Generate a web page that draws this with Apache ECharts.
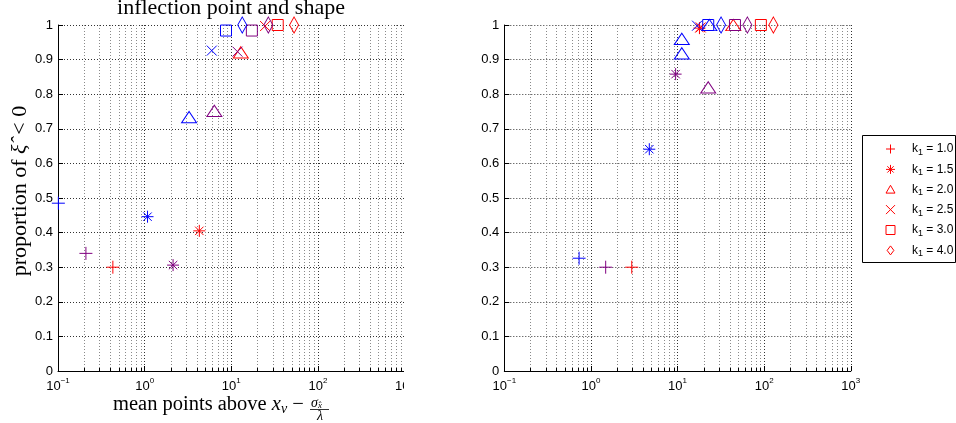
<!DOCTYPE html>
<html>
<head>
<meta charset="utf-8">
<script src="https://cdn.jsdelivr.net/npm/echarts@6.0.0/dist/echarts.min.js"></script>
<style>
  html, body { margin: 0; padding: 0; background: #fff; width: 956px; height: 423px; overflow: hidden; }
  #left  { position: absolute; left: 0;     top: 0; width: 404px; height: 423px; }
  #right { position: absolute; left: 404px; top: 0; width: 552px; height: 423px; }
</style>
</head>
<body>
<div id="left"></div>
<div id="right"></div>
<script>
// ---- data ------------------------------------------------------------
const kLabels = ['1.0', '1.5', '2.0', '2.5', '3.0', '4.0'];

// decade ticks and the 2..9 minor ticks of the log x axis
const xDecades = [0.1, 1, 10, 100, 1000];
const xMinorTicks = [
  0.2, 0.3, 0.4, 0.5, 0.6, 0.7, 0.8, 0.9,
  2, 3, 4, 5, 6, 7, 8, 9,
  20, 30, 40, 50, 60, 70, 80, 90,
  200, 300, 400, 500, 600, 700, 800, 900
];

// left panel (inflection point and shape): one point per k1 for each group
const leftBlueX   = [0.101, 1.08, 3.26, 5.96, 8.7, 13.4];
const leftBlueY   = [0.485, 0.446, 0.734, 0.926, 0.984, 1.0];
const leftPurpleX = [0.21, 2.13, 6.38, 11.8, 17.3, 26.8];
const leftPurpleY = [0.34, 0.306, 0.752, 0.923, 0.984, 1.0];
const leftRedX    = [0.43, 4.28, 12.9, 24.6, 34.4, 53.1];
const leftRedY    = [0.30, 0.405, 0.921, 0.997, 1.0, 1.0];

// right panel
const rightBlueX   = [0.73, 4.72, 11.2, 16.8, 22.6, 31.8];
const rightBlueY   = [0.326, 0.641, 0.96, 0.998, 1.0, 1.0];
const rightPurpleX = [1.48, 9.5, 22.6, null, 46, 64];
const rightPurpleY = [0.30, 0.858, 0.82, null, 1.0, 1.0];
const rightRedX    = [2.96, 17.9, 44, 18.5, 91.6, 127.7];
const rightRedY    = [0.30, 0.991, 1.0, 0.993, 1.0, 1.0];
// additional k1 = 2.0 runs of the blue group
const rightBlueTriX = [11.2, 23.3];
const rightBlueTriY = [0.918, 1.0];

// ---- styling ---------------------------------------------------------
const BLUE = '#0000ff', PURPLE = '#800080', RED = '#ff0000';
const SANS = '"Liberation Sans", Arial, sans-serif';
const SERIF = '"Liberation Serif", "Times New Roman", serif';

// open markers: +, *, triangle, x, square, diamond
const MARKERS = [
  { symbol: 'path://M0,6.5L13,6.5M6.5,0L6.5,13', size: 13 },
  { symbol: 'path://M0,6L12,6M6,0L6,12M1.8,1.8L10.2,10.2M1.8,10.2L10.2,1.8', size: 12 },
  { symbol: 'path://M7.5,0L15,13L0,13Z', size: [15, 13] },
  { symbol: 'path://M0,0L10,10M0,10L10,0', size: 10 },
  { symbol: 'path://M0,0L11,0L11,11L0,11Z', size: 11 },
  { symbol: 'path://M6,0L12,8L6,16L0,8Z', size: [12, 16] }
];

function pt(x, y, color) {
  return { value: [x, y], itemStyle: { borderColor: color } };
}

function groupPoints(groups, i) {
  const out = [];
  groups.forEach(g => {
    if (g.x[i] != null) out.push(pt(g.x[i], g.y[i], g.color));
  });
  return out;
}

function decadeLabel(v) {
  const e = Math.round(Math.log10(v));
  return '{b|10}{s|' + (e < 0 ? '\u2212' + (-e) : e) + '}';
}

function minorGridSeries() {
  return {
    type: 'custom',
    silent: true,
    z: 1,
    clip: false,
    data: xMinorTicks.map(v => [v, 0]),
    encode: { x: 0, y: 1 },
    renderItem(params, api) {
      const cs = params.coordSys;
      const x = Math.round(api.coord([api.value(0), 0])[0]) + 0.5;
      const bottom = cs.y + cs.height;
      return {
        type: 'group',
        children: [
          { type: 'line', shape: { x1: x, y1: cs.y, x2: x, y2: bottom },
            style: { stroke: '#8a8a8a', lineWidth: 1, lineDash: [1, 2] } },
          { type: 'line', shape: { x1: x, y1: bottom, x2: x, y2: bottom - 3 },
            style: { stroke: '#000', lineWidth: 1 } }
        ]
      };
    }
  };
}

function scatterSeries(groups, extra) {
  return kLabels.map((k, i) => {
    const data = groupPoints(groups, i);
    if (extra && extra.index === i) {
      extra.x.forEach((x, j) => data.unshift(pt(x, extra.y[j], extra.color)));
    }
    return {
      type: 'scatter',
      name: 'k1 = ' + k,
      symbol: MARKERS[i].symbol,
      symbolSize: MARKERS[i].size,
      symbolKeepAspect: true,
      clip: false,
      z: 5,
      itemStyle: { color: 'none', borderColor: RED, borderWidth: 1, opacity: 1 },
      emphasis: { disabled: true },
      data
    };
  });
}

function panelOption(gridLeft, groups, extra) {
  return {
    animation: false,
    grid: { left: gridLeft, top: 25, width: 346.5, height: 346, containLabel: false, outerBoundsMode: 'none' },
    xAxis: {
      type: 'log', logBase: 10, min: 0.1, max: 1000,
      axisLine: { show: true, onZero: false, lineStyle: { color: '#000', width: 1 } },
      axisTick: { show: true, inside: true, length: 5, lineStyle: { color: '#000' } },
      axisLabel: {
        margin: 6, formatter: decadeLabel,
        rich: {
          b: { fontFamily: SANS, fontSize: 13, color: '#000', lineHeight: 16, verticalAlign: 'bottom' },
          s: { fontFamily: SANS, fontSize: 8, color: '#000', lineHeight: 8, verticalAlign: 'top' }
        }
      },
      splitLine: { show: true, lineStyle: { color: '#333', width: 1, type: [1, 2] } }
    },
    yAxis: {
      type: 'value', min: 0, max: 1, interval: 0.1,
      axisLine: { show: true, lineStyle: { color: '#000', width: 1 } },
      axisTick: { show: true, inside: true, length: 5, lineStyle: { color: '#000' } },
      axisLabel: { fontFamily: SANS, fontSize: 13, color: '#000', margin: 5 },
      splitLine: { show: true, lineStyle: { color: '#333', width: 1, type: [1, 2] } }
    },
    series: [minorGridSeries()].concat(scatterSeries(groups, extra))
  };
}

// ---- left panel --------------------------------------------------------
const leftChart = echarts.init(document.getElementById('left'), null, { renderer: 'canvas' });
const leftOpt = panelOption(58, [
  { x: leftBlueX, y: leftBlueY, color: BLUE },
  { x: leftPurpleX, y: leftPurpleY, color: PURPLE },
  { x: leftRedX, y: leftRedY, color: RED }
]);
leftOpt.backgroundColor = '#fff';
leftOpt.yAxis.name = '{t|proportion of }{i|\u03BE\u0302}{t|\u2009 < 0}';
leftOpt.yAxis.nameLocation = 'middle';
leftOpt.yAxis.nameRotate = 90;
leftOpt.yAxis.nameGap = 27;
leftOpt.yAxis.nameMoveOverlap = false;
leftOpt.yAxis.nameTextStyle = {
  padding: [0, 0, 0, 14],
  rich: {
    t: { fontFamily: SERIF, fontSize: 22, color: '#000' },
    i: { fontFamily: SERIF, fontSize: 22, fontStyle: 'italic', color: '#000' }
  }
};
leftOpt.graphic = [
  { type: 'text', x: 231, y: 8,
    style: { text: 'inflection point and shape', fontFamily: SERIF, fontSize: 22, fill: '#000',
             align: 'center', verticalAlign: 'middle' } },
  { type: 'text', x: 113, y: 405,
    style: {
      text: '{t|mean points above }{i|x}{sub|v}{t| \u2212 }',
      verticalAlign: 'middle', align: 'left',
      rich: {
        t: { fontFamily: SERIF, fontSize: 20.5, fill: '#000', lineHeight: 22 },
        i: { fontFamily: SERIF, fontSize: 20.5, fontStyle: 'italic', fill: '#000', lineHeight: 22 },
        sub: { fontFamily: SERIF, fontSize: 14, fontStyle: 'italic', fill: '#000', lineHeight: 14, verticalAlign: 'bottom' }
      }
    } },
  { type: 'text', x: 311, y: 403,
    style: {
      text: '{i|\u03C3}{s|x\u0302}', verticalAlign: 'middle', align: 'left',
      rich: {
        i: { fontFamily: SERIF, fontSize: 14, fontStyle: 'italic', fill: '#000', lineHeight: 14 },
        s: { fontFamily: SERIF, fontSize: 9, fontStyle: 'italic', fill: '#000', lineHeight: 8, verticalAlign: 'bottom' }
      }
    } },
  { type: 'line', shape: { x1: 310, y1: 409.5, x2: 329, y2: 409.5 }, style: { stroke: '#000', lineWidth: 0.8 } },
  { type: 'text', x: 320, y: 416,
    style: { text: '\u03BB', fontFamily: SERIF, fontSize: 14, fontStyle: 'italic', fill: '#000',
             align: 'center', verticalAlign: 'middle' } }
];
leftChart.setOption(leftOpt);

// ---- right panel with legend ------------------------------------------
const rightChart = echarts.init(document.getElementById('right'), null, { renderer: 'canvas' });
const rightOpt = panelOption(100.3, [
  { x: rightBlueX, y: rightBlueY, color: BLUE },
  { x: rightPurpleX, y: rightPurpleY, color: PURPLE },
  { x: rightRedX, y: rightRedY, color: RED }
], { index: 2, x: rightBlueTriX, y: rightBlueTriY, color: BLUE });
rightOpt.backgroundColor = '#fff';
rightOpt.legend = {
  show: true,
  orient: 'vertical',
  left: 479.5,
  top: 142,
  padding: 0,
  itemGap: 5.4,
  itemWidth: 9,
  itemHeight: 9,
  selectedMode: false,
  data: kLabels.map(k => 'k1 = ' + k),
  itemStyle: { color: 'none', borderColor: RED, borderWidth: 1 },
  formatter: name => '{g| }{a|k}{s|1}{a| = ' + name.split('= ')[1] + '}',
  textStyle: {
    fontFamily: SANS, fontSize: 12, color: '#000',
    rich: {
      g: { width: 12, fontSize: 12, lineHeight: 16 },
      a: { fontFamily: SANS, fontSize: 12, color: '#000', lineHeight: 16 },
      s: { fontFamily: SANS, fontSize: 9, color: '#000', lineHeight: 6, verticalAlign: 'bottom' }
    }
  },
  z: 10
};
rightOpt.graphic = [
  { type: 'rect', z: 0,
    shape: { x: 458.5, y: 135.5, width: 93, height: 127 },
    style: { fill: '#fff', stroke: '#000', lineWidth: 1 } }
];
rightChart.setOption(rightOpt);
</script>
</body>
</html>
